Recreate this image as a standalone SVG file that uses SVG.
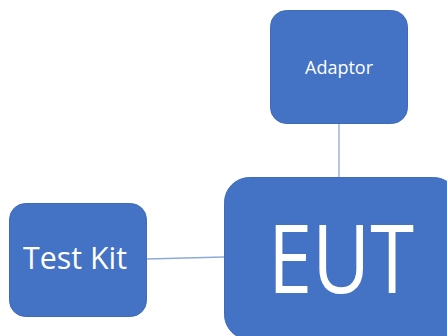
<svg xmlns="http://www.w3.org/2000/svg" width="447" height="336" viewBox="0 0 447 336">
<style>
.box{fill:#4472c4;stroke:#3f6bba;stroke-width:1}
.lbl{fill:#ffffff;font-family:"Open Sans","Noto Sans","Liberation Sans",sans-serif;text-anchor:middle}
.conn{stroke:#8eaadb;stroke-width:1.3;fill:none}
</style>
<rect width="447" height="336" fill="#ffffff"/>
<g id="connectors">
<line class="conn" x1="339" y1="123" x2="339" y2="177"/>
<line class="conn" x1="147" y1="259" x2="224" y2="257"/>
</g>
<g id="adaptor">
<rect class="box" x="270.5" y="10.5" width="137" height="113" rx="16"/>
<text class="lbl" x="339" y="74" font-size="18" textLength="68" lengthAdjust="spacingAndGlyphs">Adaptor</text>
</g>
<g id="testkit">
<rect class="box" x="9.5" y="203.5" width="137" height="113" rx="16"/>
<text class="lbl" x="75" y="269" font-size="31" textLength="104" lengthAdjust="spacingAndGlyphs">Test Kit</text>
</g>
<g id="eut">
<rect class="box" x="224.5" y="177.5" width="234" height="162" rx="25"/>
<text class="lbl" x="341" y="293" font-size="95" textLength="146" lengthAdjust="spacingAndGlyphs">EUT</text>
</g>
</svg>
